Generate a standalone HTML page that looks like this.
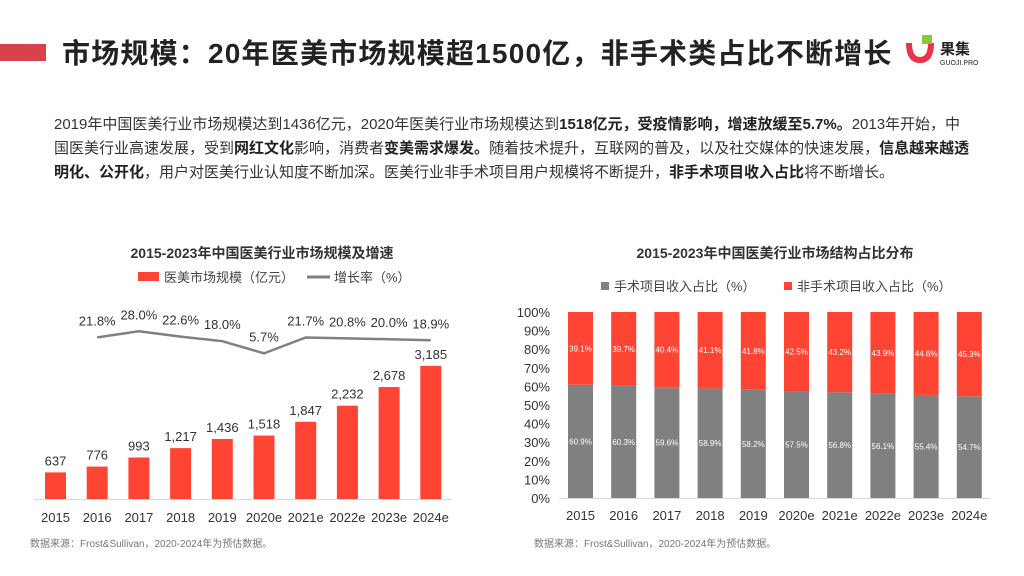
<!DOCTYPE html>
<html><head><meta charset="utf-8">
<style>
body{margin:0;width:1024px;height:576px;overflow:hidden;background:#fff;font-family:"Liberation Sans","Noto Sans CJK SC",sans-serif;color:#333;position:relative}
.abs{position:absolute;white-space:nowrap}
b{color:#222}
</style></head><body>
<div class="abs" style="left:0;top:44px;width:46px;height:17px;background:#d9424a"></div>
<div class="abs" style="left:62px;top:32px;font-size:28px;font-weight:bold;color:#222;letter-spacing:1.2px">市场规模：20年医美市场规模超1500亿，非手术类占比不断增长</div>
<div class="abs" style="left:902px;top:33px;width:110px;height:36px">
<svg width="110" height="36"><path d="M4 10 Q4 30 18 30 Q32 30 32 10 L26 10 Q26 24 18 24 Q10 24 10 10 Z" fill="#e8334a"/><rect x="20" y="2" width="10" height="9" fill="#8cc63f"/>
<text x="38" y="21" font-size="15" font-weight="bold" fill="#222" font-family="Noto Sans CJK SC,sans-serif">果集</text><text x="38" y="32" font-size="7" fill="#222">GUOJI.PRO</text></svg></div>
<div class="abs" style="left:54px;top:113px;font-size:15px;line-height:24px;color:#333">2019年中国医美行业市场规模达到1436亿元，2020年医美行业市场规模达到<b>1518亿元，受疫情影响，增速放缓至5.7%。</b>2013年开始，中<br>国医美行业高速发展，受到<b>网红文化</b>影响，消费者<b>变美需求爆发。</b>随着技术提升，互联网的普及，以及社交媒体的快速发展，<b>信息越来越透</b><br><b>明化、公开化</b>，用户对医美行业认知度不断加深。医美行业非手术项目用户规模将不断提升，<b>非手术项目收入占比</b>将不断增长。</div>

<svg class="abs" style="left:0;top:0" width="1024" height="576" id="charts">
<text x="262" y="258" text-anchor="middle" font-size="14" font-weight="bold" fill="#333">2015-2023年中国医美行业市场规模及增速</text>
<rect x="138" y="272" width="21" height="9" fill="#ff4433"/>
<text x="164" y="282" font-size="13" fill="#444">医美市场规模（亿元）</text>
<line x1="307" y1="277" x2="330" y2="277" stroke="#808080" stroke-width="3"/>
<text x="334" y="282" font-size="13" fill="#444">增长率（%）</text>
<line x1="34" y1="499.5" x2="452" y2="499.5" stroke="#d9d9d9"/>
<g id="left"></g>

<text x="775" y="258" text-anchor="middle" font-size="14" font-weight="bold" fill="#333">2015-2023年中国医美行业市场结构占比分布</text>
<rect x="601" y="282" width="8" height="8" fill="#808080"/>
<text x="614" y="291" font-size="13" fill="#444">手术项目收入占比（%）</text>
<rect x="784" y="282" width="8" height="8" fill="#ff4433"/>
<text x="797" y="291" font-size="13" fill="#444">非手术项目收入占比（%）</text>
<line x1="559" y1="498.5" x2="990" y2="498.5" stroke="#d9d9d9"/>
<g id="right"></g>
<text x="30" y="547" font-size="10" fill="#777">数据来源：Frost&amp;Sullivan，2020-2024年为预估数据。</text>
<text x="534" y="547" font-size="10" fill="#777">数据来源：Frost&amp;Sullivan，2020-2024年为预估数据。</text>
</svg>
<script>
const categories=["2015","2016","2017","2018","2019","2020e","2021e","2022e","2023e","2024e"];
const marketSize=[637,776,993,1217,1436,1518,1847,2232,2678,3185];
const marketLabels=["637","776","993","1,217","1,436","1,518","1,847","2,232","2,678","3,185"];
const growthRate=[21.8,28.0,22.6,18.0,5.7,21.7,20.8,20.0,18.9];
const surgical=[60.9,60.3,59.6,58.9,58.2,57.5,56.8,56.1,55.4,54.7];
const nonSurgical=[39.1,39.7,40.4,41.1,41.8,42.5,43.2,43.9,44.6,45.3];
const yTicks=[0,10,20,30,40,50,60,70,80,90,100];
const NS="http://www.w3.org/2000/svg";
function mk(tag,attrs,txt,parent){const e=document.createElementNS(NS,tag);for(const k in attrs)e.setAttribute(k,attrs[k]);if(txt!=null)e.textContent=txt;parent.appendChild(e);return e;}
const L=document.getElementById('left');
const lx=i=>55.5+i*41.7;
const ly=v=>499-v*0.0418;
const gy=v=>359-v*0.99;
categories.forEach((c,i)=>{
  const r=mk('rect',{x:lx(i)-10.5,y:ly(marketSize[i]),width:21,height:499-ly(marketSize[i]),fill:'#ff4433'},null,L);
  
  
  const t=mk('text',{x:lx(i),y:ly(marketSize[i])-7,'text-anchor':'middle','font-size':13,fill:'#333'},marketLabels[i],L);
  
  
  const x=mk('text',{x:lx(i),y:522,'text-anchor':'middle','font-size':13,fill:'#333'},c,L);
  
  
});
let pts=growthRate.map((g,j)=>lx(j+1)+','+gy(g)).join(' ');
const pl=mk('polyline',{points:pts,fill:'none',stroke:'#808080','stroke-width':2.5},null,L);


growthRate.forEach((g,j)=>{
  const t=mk('text',{x:lx(j+1),y:gy(g)-12,'text-anchor':'middle','font-size':13,fill:'#333'},g.toFixed(1)+'%',L);
  
  
});
const R=document.getElementById('right');
const rx=i=>580.5+i*43.2;
const ry=v=>498-v*1.86;
yTicks.forEach(v=>{
  const t=mk('text',{x:550,y:ry(v)+5,'text-anchor':'end','font-size':13,fill:'#333'},v+'%',R);
  
  
});
categories.forEach((c,i)=>{
  const s=surgical[i],n=nonSurgical[i];
  const g=mk('rect',{x:rx(i)-12.5,y:ry(s),width:25,height:ry(0)-ry(s),fill:'#808080'},null,R);
  
  
  const r=mk('rect',{x:rx(i)-12.5,y:ry(s+n),width:25,height:ry(s)-ry(s+n),fill:'#ff4433'},null,R);
  
  
  const t1=mk('text',{x:rx(i),y:ry(s/2)+3,'text-anchor':'middle','font-size':8,fill:'#fff'},s.toFixed(1)+'%',R);
  
  
  const t2=mk('text',{x:rx(i),y:ry(s+n/2)+3,'text-anchor':'middle','font-size':8,fill:'#fff'},n.toFixed(1)+'%',R);
  
  
  const x=mk('text',{x:rx(i),y:520,'text-anchor':'middle','font-size':13,fill:'#333'},c,R);
  
  
});
</script>
</body></html>
